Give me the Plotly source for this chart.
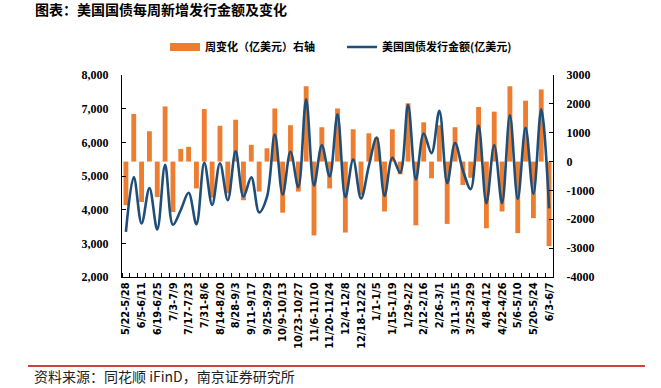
import plotly.graph_objects as go

# ---- data ----
tick_labels = ["5/22-5/28", "6/5-6/11", "6/19-6/25", "7/3-7/9", "7/17-7/23", "7/31-8/6",
               "8/14-8/20", "8/28-9/3", "9/11-9/17", "9/25-9/29", "10/9-10/13", "10/23-10/27",
               "11/6-11/10", "11/20-11/24", "12/4-12/8", "12/18-12/22", "1/1-1/5", "1/15-1/19",
               "1/29-2/2", "2/12-2/16", "2/26-3/1", "3/11-3/15", "3/25-3/29", "4/8-4/12",
               "4/22-4/26", "5/6-5/10", "5/20-5/24", "6/3-6/7"]

# weekly issuance (left axis, 亿美元), one value per week
issuance = [3340, 4970, 3590, 4640, 3410, 5330, 3550, 3990, 4500, 3570,
            5390, 4140, 5380, 4280, 5730, 4390, 4960, 3920, 4380, 6230,
            4450, 5720, 4670, 7280, 4720, 5910, 4990, 6830, 4370, 5490,
            4330, 5300, 6140, 4410, 5540, 5100, 7110, 4900, 6260, 5680,
            6940, 4790, 5980, 5170, 4610, 6500, 4190, 5920, 4200, 6800,
            4320, 6430, 4470, 6980, 4040]

# weekly change (right axis, 亿美元)
weekly_change = [-1510, 1650, -1400, 1050, -1230, 1910, -1750, 440, 510, -930,
                 1820, -1250, 1240, -1100, 1450, -1340, 580, -1040, 460, 1840,
                 -1770, 1260, -1040, 2610, -2560, 1190, -930, 1840, -2460, 1120,
                 -1160, 980, 830, -1730, 1120, -440, 2020, -2210, 1360, -580,
                 1260, -2160, 1190, -810, -560, 1890, -2310, 1730, -1730, 2610,
                 -2480, 2110, -1960, 2500, -2930]

left_ticks = [2000, 3000, 4000, 5000, 6000, 7000, 8000]
right_ticks = [-4000, -3000, -2000, -1000, 0, 1000, 2000, 3000]

n = len(issuance)
x = list(range(n))
tick_pos = list(range(0, n, 2))

ORANGE = "#ED7D31"
BLUE = "#1F4E79"
W, H = 661, 388
L, R, T, B = 122, 553, 75, 277
pw, ph = R - L, B - T

def px_x(p):
    return (p - L) / pw

def px_y(p):
    return (B - p) / ph

fig = go.Figure()
fig.add_trace(go.Bar(
    x=x, y=weekly_change, name="周变化（亿美元）右轴", showlegend=False,
    marker=dict(color=ORANGE, line=dict(width=0)), width=0.62,
    yaxis="y", hoverinfo="skip"))
# legend-only entry giving the wide orange swatch
fig.add_trace(go.Scatter(
    x=[None], y=[None], name="周变化（亿美元）右轴", mode="lines",
    line=dict(color=ORANGE, width=8), yaxis="y", legendrank=1))
fig.add_trace(go.Scatter(
    x=x, y=issuance, name="美国国债发行金额(亿美元)", mode="lines",
    line=dict(color=BLUE, width=2.6, shape="spline", smoothing=1.0),
    yaxis="y2", hoverinfo="skip", legendrank=2))

num_font = dict(family="Liberation Serif, Times New Roman, serif", size=12, color="#000", weight="bold")

fig.update_layout(
    width=W, height=H, autosize=False,
    margin=dict(l=L, r=W - R, t=T, b=H - B, autoexpand=False),
    paper_bgcolor="white", plot_bgcolor="white",
    showlegend=True,
    legend=dict(orientation="h", x=px_x(165), y=px_y(47), xanchor="left", yanchor="middle",
                font=dict(family="Noto Sans CJK SC", size=11, color="#000", weight="bold"),
                bgcolor="rgba(0,0,0,0)", borderwidth=0, tracegroupgap=0,
                entrywidth=132, entrywidthmode="pixels"),
    xaxis=dict(range=[-0.5, n - 0.5], tickmode="array", tickvals=tick_pos, ticktext=tick_labels,
               tickangle=-90, ticks="", showline=True, linecolor="#000", linewidth=1,
               showgrid=False, zeroline=False, automargin=False,
               tickfont=dict(family="Liberation Sans Narrow, Arial Narrow, DejaVu Sans Condensed, sans-serif",
                             size=11, color="#000", weight="bold"),
               minor=dict(tick0=-0.5, dtick=1, ticks="inside", ticklen=4, tickcolor="#000", showgrid=False)),
    yaxis=dict(side="right", range=[-4000, 3000], tickmode="array", tickvals=right_ticks,
               ticktext=[str(v) for v in right_ticks], ticks="inside", ticklen=4, tickcolor="#000",
               showline=True, linecolor="#000", linewidth=1, showgrid=False, zeroline=False,
               tickfont=num_font, ticklabelstandoff=10, automargin=False),
    yaxis2=dict(side="left", overlaying="y", range=[2000, 8000], tickmode="array", tickvals=left_ticks,
                ticktext=[f"{v:,}" for v in left_ticks], ticks="inside", ticklen=4, tickcolor="#000",
                showline=True, linecolor="#000", linewidth=1, showgrid=False, zeroline=False,
                tickfont=num_font, ticklabelstandoff=10, automargin=False),
    bargap=0.38,
)

fig.add_annotation(text="图表：美国国债每周新增发行金额及变化", xref="paper", yref="paper",
                   x=px_x(33), y=px_y(9), xanchor="left", yanchor="middle", showarrow=False,
                   font=dict(family="Noto Sans CJK SC", size=14, color="#000", weight="bold"))
fig.add_annotation(text="资料来源：同花顺 iFinD，南京证券研究所", xref="paper", yref="paper",
                   x=px_x(32), y=px_y(376), xanchor="left", yanchor="middle", showarrow=False,
                   font=dict(family="Noto Sans CJK SC", size=14, color="#222"))
fig.add_shape(type="line", xref="paper", yref="paper", x0=px_x(28), x1=px_x(645),
              y0=px_y(366), y1=px_y(366), line=dict(color="#C00000", width=1.5))

fig.write_html("out.html", config={"displayModeBar": False},
               post_script="document.body.style.margin='0';document.body.style.overflow='hidden';")
